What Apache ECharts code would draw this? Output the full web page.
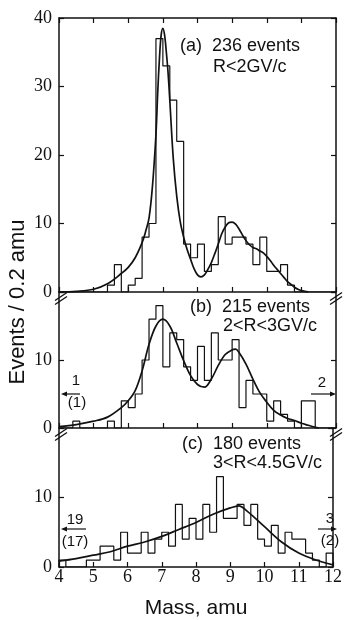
<!DOCTYPE html>
<html>
<head>
<meta charset="utf-8">
<script src="https://cdn.jsdelivr.net/npm/echarts@6/dist/echarts.min.js"></script>
<style>html,body{margin:0;padding:0;background:#fff;}#c{width:345px;height:620px;}</style>
</head>
<body>
<div id="c"></div>
<script>
// Bin edges (amu), 0.2 amu bins
const massEdges = [4.0,4.2,4.4,4.6,4.8,5.0,5.2,5.4,5.6,5.8,6.0,6.2,6.4,6.6,6.8,7.0,7.2,7.4,7.6,7.8,
  8.0,8.2,8.4,8.6,8.8,9.0,9.2,9.4,9.6,9.8,10.0,10.2,10.4,10.6,10.8,11.0,11.2,11.4,11.6,11.8,12.0];
const massTicks = [4,5,6,7,8,9,10,11,12];

// (a) 236 events, R<2GV/c
const histA = [0,0,0,0,0,0,0,1,4,0,1,2,8,10,37,33,28,22,7,5,7,3,4,11,7,8,8,7,4,8,3,3,4,1,0,0,0,0,0,0];
const fitAx = [4.0,4.5,5.0,5.4,5.8,6.0,6.2,6.4,6.5,6.6,6.7,6.8,6.85,6.9,6.95,7.0,7.05,7.1,7.15,7.2,7.3,7.4,7.5,7.6,7.7,7.8,7.9,8.0,8.1,8.2,8.3,8.4,8.5,8.6,8.7,8.8,8.9,9.0,9.1,9.2,9.3,9.4,9.5,9.6,9.7,9.8,9.9,10.0,10.1,10.2,10.3,10.4,10.5,10.6,10.7,10.8,10.9,11.0,11.1,11.2];
const fitAy = [0.0,0.1,0.4,1.2,2.7,3.6,5.0,7.2,8.8,10.8,15.5,23,29,34,37.5,38.5,37.5,35,32,28,19.5,14,10.3,8,6.2,4.8,3.4,2.5,2.2,2.5,3.3,4.3,5.6,7,8.5,9.5,10.1,10.2,9.9,9.2,8.3,7.5,6.9,6.5,6.3,6.0,5.7,5.2,4.6,3.9,3.3,2.7,2.1,1.5,1.1,0.7,0.4,0.2,0.1,0.03];

// (b) 215 events, 2<R<3GV/c
const histB = [0,0,1,0,0,0,0,1,0,4,3,5,10,16,18,9,14,13,9,7,12,7,14,10,10,13,3,7,5,5,1,4,2,1,0,4,4,0,0,0];
const fitBx = [4.0,4.5,5.0,5.4,5.8,6.0,6.2,6.4,6.6,6.8,7.0,7.2,7.4,7.6,7.8,8.0,8.2,8.4,8.6,8.8,9.0,9.1,9.2,9.4,9.6,9.8,10.0,10.2,10.4,10.6,10.8,11.0,11.2,11.4,11.5];
const fitBy = [0.2,0.5,1.0,1.6,3.0,4.0,5.5,8.4,12.3,15,16,15,12.5,9.9,7.7,6.4,6.0,7.2,9.2,10.8,11.5,11.6,11.1,9.4,7.2,5.2,3.8,2.6,1.9,1.4,1.1,0.7,0.4,0.1,0];

// (c) 180 events, 3<R<4.5GV/c
const histC = [1,0,0,0,1,1,3,3,1,5,2,2,5,2,4,5,3,9,4,7,4,9,5,13,7,7,9,6,9,4,3,6,2,5,4,4,2,1,0,2];
const fitCx = [4.0,4.5,5.0,5.5,6.0,6.5,7.0,7.5,8.0,8.5,9.0,9.25,9.5,10.0,10.5,11.0,11.5,12.0];
const fitCy = [0.85,1.2,1.7,2.2,3.0,3.6,4.4,5.4,6.4,7.6,8.5,8.8,8.0,5.8,3.6,2.0,1.0,0.3];

const yTicksA = [0,10,20,30,40];
const yTicksBC = [0,10];

function histData(vals){
  const d = [[massEdges[0],0]];
  vals.forEach((v,i)=>{ d.push([massEdges[i],v]); d.push([massEdges[i+1],v]); });
  d.push([massEdges[massEdges.length-1],0]);
  return d;
}
function fitData(xs,ys){ return xs.map((x,i)=>[x,ys[i]]); }

const INK = '#111';
const numFont = 'Liberation Sans Narrow';
const txtFont = 'Liberation Sans';

function xAx(grid, opts){
  return Object.assign({
    type:'value', gridIndex:grid, min:4, max:12, interval:1,
    axisLine:{show:true, onZero:false, lineStyle:{color:INK,width:1.5}},
    axisTick:{show:true, inside:true, length:5, lineStyle:{color:INK,width:1.2}},
    axisLabel:{show:false}, splitLine:{show:false}
  }, opts||{});
}
function yAx(grid, max, opts){
  return Object.assign({
    type:'value', gridIndex:grid, min:0, max:max, interval:10,
    axisLine:{show:true, onZero:false, lineStyle:{color:INK,width:1.5}},
    axisTick:{show:true, inside:true, length:5, lineStyle:{color:INK,width:1.2}},
    axisLabel:{show:false}, splitLine:{show:false}
  }, opts||{});
}
function yLab(ticks){
  return {show:true, margin:7, color:INK, fontSize:18, fontFamily:numFont,
    formatter:(v)=> ticks.indexOf(v)>=0 ? String(v) : ''};
}

const series = [];
function addPanel(hist, fx, fy, xi, yi){
  series.push({type:'line', xAxisIndex:xi, yAxisIndex:yi, data:histData(hist), symbol:'none',
    lineStyle:{color:INK,width:1.2}, silent:true});
  series.push({type:'line', xAxisIndex:xi, yAxisIndex:yi, data:fitData(fx,fy), symbol:'none',
    smooth:0.35, lineStyle:{color:INK,width:1.7}, silent:true});
}
addPanel(histA, fitAx, fitAy, 0, 0);
addPanel(histB, fitBx, fitBy, 2, 2);
addPanel(histC, fitCx, fitCy, 3, 4);

function txt(x,y,s,size,opt){
  return Object.assign({type:'text', x:x, y:y, style:Object.assign({text:s, fill:INK,
    font: size+'px '+txtFont, align:'left', verticalAlign:'middle'}, (opt||{}))});
}
function brk(x,y){
  return {type:'group', x:x, y:y, children:[
    {type:'polygon', shape:{points:[[-6,1.5],[6,-6.5],[6,-2.5],[-6,5.5]]}, style:{fill:'#fff'}},
    {type:'line', shape:{x1:-6,y1:1.5,x2:6,y2:-6.5}, style:{stroke:INK,lineWidth:1.3}},
    {type:'line', shape:{x1:-6,y1:5.5,x2:6,y2:-2.5}, style:{stroke:INK,lineWidth:1.3}}
  ]};
}
function arrow(x1,x2,y){
  const dir = x2>x1 ? 1 : -1;
  return {type:'group', children:[
    {type:'line', shape:{x1:x1,y1:y,x2:x2-dir*4,y2:y}, style:{stroke:INK,lineWidth:1.2}},
    {type:'polygon', shape:{points:[[x2,y],[x2-dir*6,y-2.5],[x2-dir*6,y+2.5]]}, style:{fill:INK}}
  ]};
}

const option = {
  animation:false,
  backgroundColor:'#fff',
  grid:[
    {left:59, right:9, top:18, height:274},
    {left:59, right:9, top:292, height:136},
    {left:59, right:9, top:428, height:139}
  ],
  xAxis:[
    xAx(0),
    xAx(0,{position:'top'}),
    xAx(1),
    xAx(2,{axisLabel:{show:true, margin:1, color:INK, fontSize:18, fontFamily:numFont,
      formatter:(v)=> massTicks.indexOf(v)>=0 ? String(v) : ''},
      name:'Mass, amu', nameLocation:'middle', nameGap:31,
      nameTextStyle:{color:INK, fontSize:21, fontFamily:txtFont}})
  ],
  yAxis:[
    yAx(0,40,{axisLabel:yLab(yTicksA)}),
    yAx(0,40,{position:'right'}),
    yAx(1,20,{axisLabel:yLab(yTicksBC)}),
    yAx(1,20,{position:'right'}),
    yAx(2,20,{axisLabel:yLab(yTicksBC)}),
    yAx(2,20,{position:'right'})
  ],
  series:series,
  graphic:[
    {type:'text', x:18, y:302, rotation:Math.PI/2, style:{text:'Events / 0.2 amu', fill:INK,
      font:'22px '+txtFont, align:'center', verticalAlign:'middle'}},
    txt(180,46,'(a)  236 events',18),
    txt(213,67,'R<2GV/c',18),
    txt(190,307,'(b)  215 events',18),
    txt(223,326,'2<R<3GV/c',18),
    txt(182,444,'(c)  180 events',18),
    txt(213,463,'3<R<4.5GV/c',18),
    txt(76,381,'1',15,{align:'center'}),
    arrow(80,61,394),
    txt(77,403,'(1)',15,{align:'center'}),
    txt(322,383,'2',15,{align:'center'}),
    arrow(311,336,394),
    txt(75,520,'19',15,{align:'center'}),
    arrow(86,61,529),
    txt(75,542,'(17)',15,{align:'center'}),
    txt(330,519,'3',15,{align:'center'}),
    arrow(318,337,529),
    txt(330,541,'(2)',15,{align:'center'}),
    brk(61,299), brk(336,299), brk(61,435), brk(336,435)
  ]
};
const chart = echarts.init(document.getElementById('c'), null, {renderer:'canvas', width:345, height:620});
chart.setOption(option);
</script>
</body>
</html>
